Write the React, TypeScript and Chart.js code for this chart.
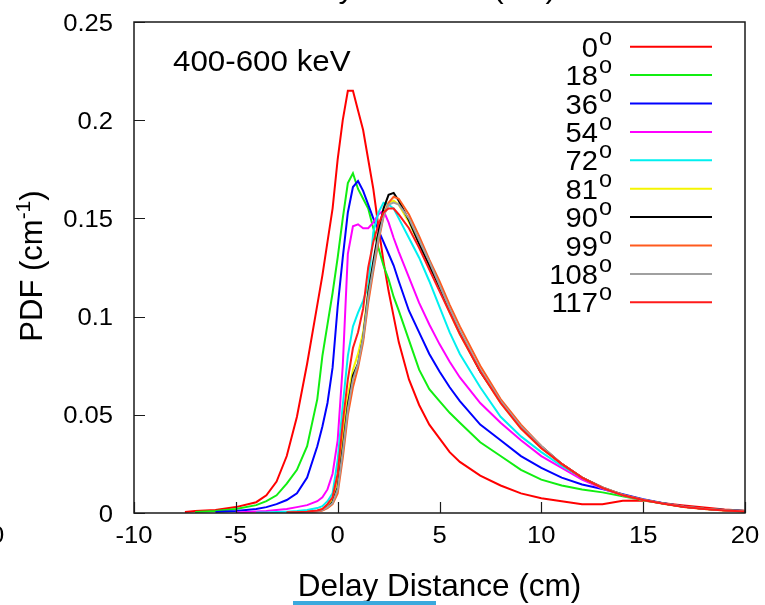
import React, { useEffect, useRef } from "react";
import { Chart, registerables } from "chart.js";

Chart.register(...registerables);

// Delay distance grid (cm)
const xGrid = [-7.5, -7, -6, -5, -4, -3.5, -3, -2.5, -2, -1.5, -1, -0.75, -0.5, -0.25, 0, 0.25, 0.5, 0.75, 1, 1.25, 1.5, 1.75, 2, 2.25, 2.5, 2.75, 3, 3.5, 4, 4.5, 5, 5.5, 6, 7, 8, 9, 10, 11, 12, 13, 14, 15, 16, 17, 18, 19, 20];

const pdf0 = [0.0005, 0.001, 0.0015, 0.003, 0.0055, 0.009, 0.016, 0.029, 0.049, 0.076, 0.106, 0.121, 0.138, 0.155, 0.18, 0.2, 0.215, 0.215, 0.205, 0.195, 0.18, 0.165, 0.146, 0.128, 0.113, 0.1, 0.087, 0.068, 0.055, 0.045, 0.038, 0.031, 0.026, 0.019, 0.014, 0.01, 0.0075, 0.006, 0.0045, 0.0045, 0.0062, 0.0064, 0.005, 0.0038, 0.0028, 0.0018, 0.0012];
const pdf18 = [null, 0.0005, 0.001, 0.002, 0.004, 0.006, 0.009, 0.015, 0.022, 0.034, 0.058, 0.08, 0.096, 0.112, 0.13, 0.15, 0.168, 0.173, 0.165, 0.16, 0.155, 0.145, 0.135, 0.126, 0.119, 0.11, 0.103, 0.088, 0.073, 0.063, 0.057, 0.051, 0.046, 0.036, 0.029, 0.022, 0.017, 0.014, 0.012, 0.0105, 0.0085, 0.0065, 0.0048, 0.0032, 0.0022, 0.0015, 0.001];
const pdf36 = [null, null, 0.0005, 0.001, 0.002, 0.003, 0.0045, 0.0066, 0.01, 0.018, 0.034, 0.044, 0.056, 0.074, 0.105, 0.13, 0.153, 0.166, 0.169, 0.164, 0.157, 0.15, 0.144, 0.138, 0.132, 0.126, 0.118, 0.103, 0.092, 0.081, 0.072, 0.064, 0.057, 0.045, 0.037, 0.029, 0.023, 0.018, 0.0145, 0.0122, 0.0095, 0.007, 0.005, 0.0033, 0.0022, 0.0015, 0.001];
const pdf54 = [null, null, null, 0.0003, 0.0008, 0.001, 0.0015, 0.002, 0.003, 0.004, 0.006, 0.008, 0.012, 0.02, 0.037, 0.075, 0.132, 0.146, 0.147, 0.145, 0.145, 0.148, 0.152, 0.154, 0.148, 0.14, 0.133, 0.12, 0.107, 0.096, 0.086, 0.077, 0.069, 0.056, 0.046, 0.037, 0.029, 0.023, 0.017, 0.0125, 0.009, 0.0067, 0.0048, 0.0032, 0.0021, 0.0014, 0.0009];
const pdf72 = [null, null, null, null, 0.0002, 0.0003, 0.0005, 0.0007, 0.001, 0.0015, 0.0025, 0.0035, 0.006, 0.01, 0.027, 0.055, 0.08, 0.095, 0.102, 0.108, 0.116, 0.143, 0.153, 0.158, 0.157, 0.155, 0.15, 0.14, 0.13, 0.118, 0.105, 0.092, 0.081, 0.064, 0.049, 0.039, 0.031, 0.024, 0.018, 0.0128, 0.009, 0.0066, 0.0048, 0.0032, 0.0021, 0.0014, 0.0009];
const pdf81 = [null, null, null, null, null, null, null, 0.0002, 0.0003, 0.0006, 0.0012, 0.002, 0.004, 0.007, 0.017, 0.04, 0.06, 0.073, 0.081, 0.092, 0.113, 0.127, 0.141, 0.152, 0.158, 0.159, 0.157, 0.148, 0.137, 0.126, 0.114, 0.102, 0.091, 0.072, 0.056, 0.043, 0.033, 0.025, 0.018, 0.0128, 0.009, 0.0066, 0.0047, 0.0031, 0.002, 0.0013, 0.0008];
const pdf90 = [null, null, null, null, null, null, null, 0.0002, 0.0003, 0.0005, 0.001, 0.0015, 0.003, 0.0055, 0.013, 0.033, 0.055, 0.07, 0.076, 0.089, 0.112, 0.128, 0.143, 0.155, 0.162, 0.163, 0.159, 0.149, 0.137, 0.126, 0.115, 0.103, 0.092, 0.072, 0.057, 0.044, 0.034, 0.025, 0.018, 0.013, 0.0092, 0.0067, 0.0048, 0.0032, 0.0021, 0.0014, 0.0009];
const pdf99 = [null, null, null, null, null, null, null, 0.0001, 0.0002, 0.0004, 0.0008, 0.0012, 0.0025, 0.0045, 0.01, 0.028, 0.05, 0.064, 0.074, 0.087, 0.107, 0.123, 0.138, 0.151, 0.158, 0.161, 0.16, 0.152, 0.141, 0.129, 0.118, 0.106, 0.095, 0.075, 0.058, 0.045, 0.034, 0.025, 0.018, 0.013, 0.0093, 0.0068, 0.0049, 0.0033, 0.0022, 0.0014, 0.0009];
const pdf108 = [null, null, null, null, null, null, null, 0.0002, 0.0003, 0.0005, 0.001, 0.0015, 0.003, 0.005, 0.012, 0.031, 0.053, 0.068, 0.076, 0.089, 0.11, 0.125, 0.14, 0.151, 0.157, 0.158, 0.157, 0.15, 0.139, 0.128, 0.116, 0.104, 0.093, 0.073, 0.057, 0.044, 0.034, 0.025, 0.018, 0.013, 0.0092, 0.0067, 0.0048, 0.0032, 0.0021, 0.0014, 0.0009];
const pdf117 = [null, null, null, null, null, null, null, 0.0002, 0.0004, 0.0007, 0.0013, 0.002, 0.0045, 0.008, 0.02, 0.046, 0.068, 0.084, 0.092, 0.104, 0.125, 0.138, 0.147, 0.153, 0.155, 0.155, 0.152, 0.145, 0.135, 0.124, 0.113, 0.102, 0.091, 0.072, 0.056, 0.043, 0.033, 0.025, 0.018, 0.0128, 0.009, 0.0066, 0.0047, 0.0031, 0.002, 0.0013, 0.0008];

const seriesValues = [pdf0, pdf18, pdf36, pdf54, pdf72, pdf81, pdf90, pdf99, pdf108, pdf117];
const seriesLabels = ["0", "18", "36", "54", "72", "81", "90", "99", "108", "117"];
const seriesColors = ["#ff0000", "#11ee11", "#0000ff", "#ff00ff", "#00f0f0", "#f5f500", "#000000", "#ff5a1e", "#a0a0a0", "#ff1a1a"];

const xTicks = [-10, -5, 0, 5, 10, 15, 20];
const yTicks = [0, 0.05, 0.1, 0.15, 0.2, 0.25];
const yTickLabels = ["0", "0.05", "0.1", "0.15", "0.2", "0.25"];
const energyLabel = "400-600 keV";
const xTitle = "Delay Distance (cm)";
const yTitleMain = "PDF (cm";
const yTitleSup = "-1";
const yTitleEnd = ")";
const topTitle = "Delay Distance (cm)";

const FONT = '"Liberation Sans", Arial, sans-serif';

function stretchText(ctx: CanvasRenderingContext2D, text: string, x: number, y: number, size: number, align: CanvasTextAlign, sx = 1.09, color = "#000") {
  ctx.save();
  ctx.translate(x, y);
  ctx.scale(sx, 1);
  ctx.font = `${size}px ${FONT}`;
  ctx.fillStyle = color;
  ctx.textAlign = align;
  ctx.textBaseline = "alphabetic";
  ctx.fillText(text, 0, 0);
  ctx.restore();
}

const decorPlugin = {
  id: "decor",
  afterDatasetsDraw(chart: any) {
    const ctx: CanvasRenderingContext2D = chart.ctx;
    const { left, right, top, bottom } = chart.chartArea;
    const xs = chart.scales.x;
    const ys = chart.scales.y;
    ctx.save();

    // frame
    ctx.strokeStyle = "#1a1a1a";
    ctx.lineWidth = 1.5;
    ctx.strokeRect(left, top, right - left, bottom - top);

    // inward ticks
    ctx.beginPath();
    yTicks.forEach((v) => {
      const py = Math.round(ys.getPixelForValue(v)) + 0.5;
      ctx.moveTo(left, py);
      ctx.lineTo(left + 11, py);
    });
    xTicks.forEach((v) => {
      const px = Math.round(xs.getPixelForValue(v)) + 0.5;
      ctx.moveTo(px, bottom);
      ctx.lineTo(px, bottom - 11);
    });
    ctx.lineWidth = 1.2;
    ctx.stroke();

    // tick labels
    yTicks.forEach((v, i) => {
      const py = ys.getPixelForValue(v);
      stretchText(ctx, yTickLabels[i], 113, py + 8.5, 23.5, "right");
    });
    xTicks.forEach((v) => {
      const px = xs.getPixelForValue(v);
      stretchText(ctx, String(v), px, 543, 23.5, "center");
    });
    // cut-off neighbour label at far left
    stretchText(ctx, "20", -10, 543, 23.5, "center");

    // axis titles
    const cx = (left + right) / 2;
    stretchText(ctx, xTitle, cx, 596, 31.5, "center", 1.0);
    stretchText(ctx, topTitle, 415, -2, 29, "center", 1.08);

    // y title rotated
    ctx.save();
    ctx.translate(42, 266);
    ctx.rotate(-Math.PI / 2);
    ctx.fillStyle = "#000";
    ctx.textBaseline = "alphabetic";
    ctx.font = `31px ${FONT}`;
    const w1 = ctx.measureText(yTitleMain).width;
    ctx.font = `21px ${FONT}`;
    const w2 = ctx.measureText(yTitleSup).width;
    ctx.font = `31px ${FONT}`;
    const w3 = ctx.measureText(yTitleEnd).width;
    const total = w1 + w2 + w3;
    const sx0 = -total / 2;
    ctx.textAlign = "left";
    ctx.fillText(yTitleMain, sx0, 0);
    ctx.font = `21px ${FONT}`;
    ctx.fillText(yTitleSup, sx0 + w1, -12);
    ctx.font = `31px ${FONT}`;
    ctx.fillText(yTitleEnd, sx0 + w1 + w2, 0);
    ctx.restore();

    // energy label
    stretchText(ctx, energyLabel, 173, 71, 29, "left", 1.08);

    // legend
    seriesLabels.forEach((lab, i) => {
      const ly = 46.7 + 28.4 * i;
      stretchText(ctx, lab, 598, ly + 10, 27.5, "right", 1.06);
      stretchText(ctx, "o", 599, ly - 2, 23.5, "left", 1.0);
      ctx.beginPath();
      ctx.strokeStyle = seriesColors[i];
      ctx.lineWidth = 2;
      ctx.moveTo(630, ly);
      ctx.lineTo(712, ly);
      ctx.stroke();
    });

    // blue underline artifact
    ctx.fillStyle = "#3aa9dd";
    ctx.fillRect(293, 601, 143, 4);

    ctx.restore();
  },
};

export default function App() {
  const ref = useRef<HTMLCanvasElement | null>(null);

  useEffect(() => {
    if (!ref.current) return;
    const datasets = seriesValues.map((vals, i) => ({
      label: seriesLabels[i] + "°",
      data: xGrid.map((x, j) => ({ x, y: vals[j] })),
      borderColor: seriesColors[i],
      backgroundColor: seriesColors[i],
      borderWidth: 2,
      pointRadius: 0,
      tension: 0,
      fill: false,
      order: 10 - i,
      spanGaps: false,
    }));
    const chart = new Chart(ref.current, {
      type: "line",
      data: { datasets },
      options: {
        animation: false,
        responsive: false,
        devicePixelRatio: 1,
        events: [],
        layout: { padding: { left: 0, right: 20, top: 22, bottom: 0 } },
        plugins: { legend: { display: false }, tooltip: { enabled: false }, title: { display: false } },
        scales: {
          x: {
            type: "linear",
            min: -10,
            max: 20,
            ticks: { display: false, stepSize: 5 },
            grid: { display: false },
            border: { display: false },
            afterFit: (s: any) => {
              s.height = 92;
            },
          },
          y: {
            type: "linear",
            min: 0,
            max: 0.25,
            ticks: { display: false, stepSize: 0.05 },
            grid: { display: false },
            border: { display: false },
            afterFit: (s: any) => {
              s.width = 134;
            },
          },
        },
      } as any,
      plugins: [decorPlugin],
    });
    return () => chart.destroy();
  }, []);

  return (
    <div style={{ position: "absolute", left: 0, top: 0, width: 765, height: 605, background: "#fff" }}>
      <canvas ref={ref} width={765} height={605} style={{ display: "block" }} />
    </div>
  );
}
